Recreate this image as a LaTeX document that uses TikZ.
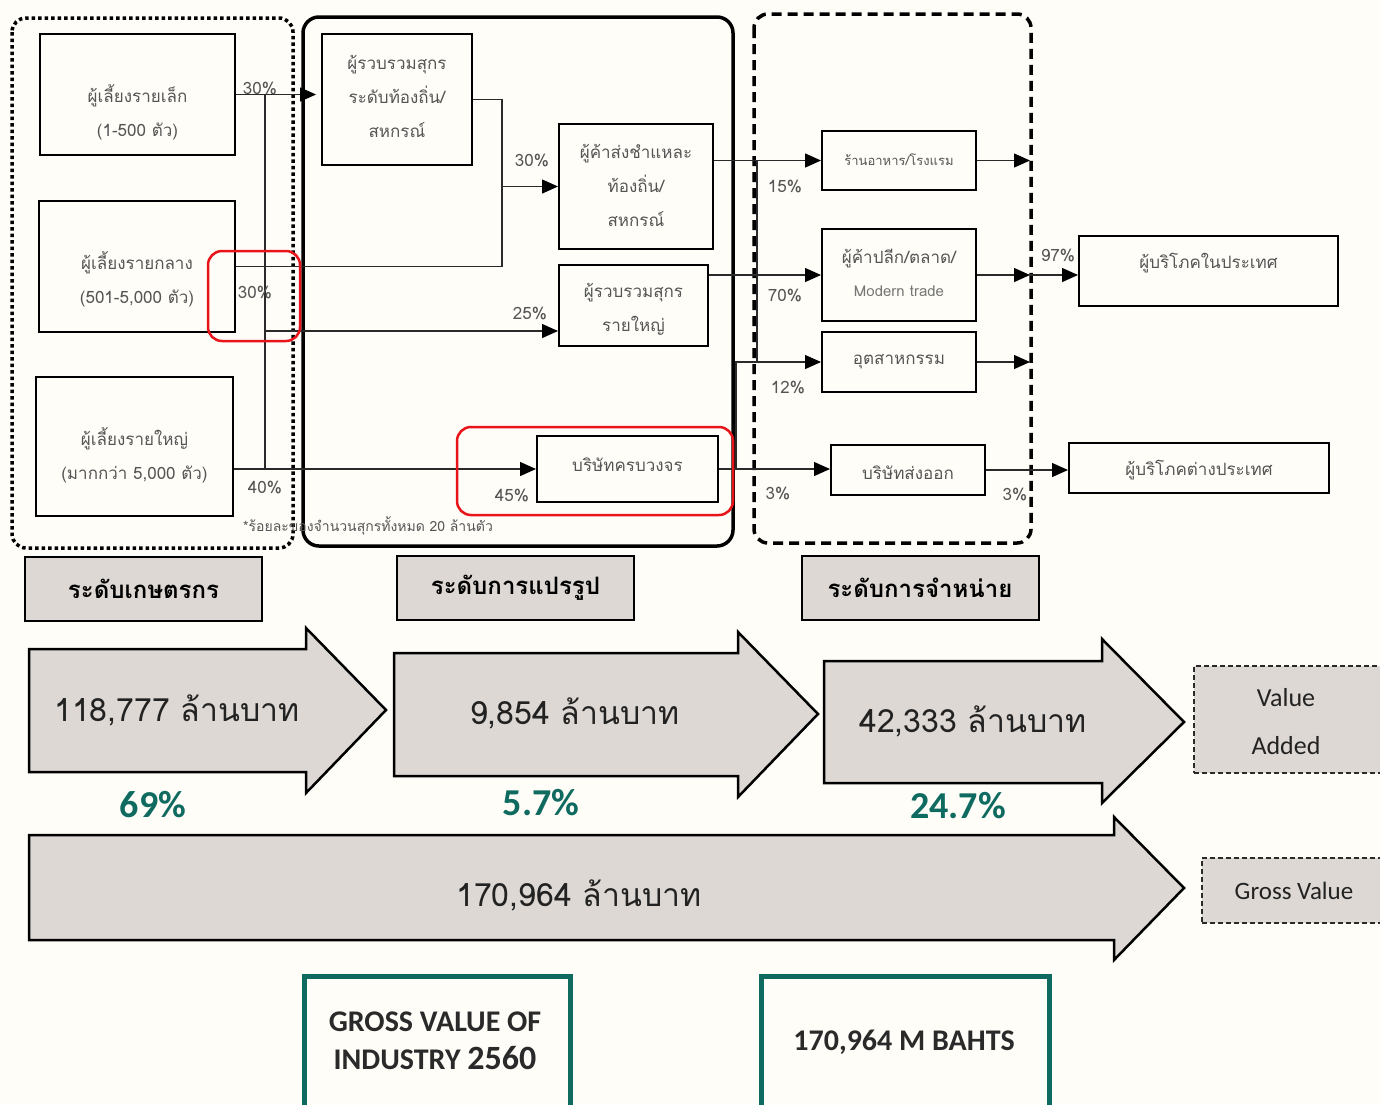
\documentclass[tikz,border=0pt]{standalone}
\usepackage{fontspec}
\usetikzlibrary{arrows.meta}
\newfontfamily\thai[Script=Thai]{Loma}
\newfontfamily\calib{Carlito}
\definecolor{bgc}{HTML}{FEFDF8}
\definecolor{txtc}{HTML}{555555}
\definecolor{linec}{HTML}{2A2A2A}
\definecolor{grayf}{HTML}{DDD8D3}
\definecolor{darkt}{HTML}{222222}
\definecolor{tealc}{HTML}{0F6A5F}
\definecolor{redc}{HTML}{E8141A}
\tikzset{
  bx/.style={draw=black, line width=2pt, inner sep=0pt},
  txt/.style={font=\thai\fontsize{17}{34}\selectfont, text=txtc, align=center, inner sep=0pt},
  smalltxt/.style={font=\thai\fontsize{13}{16}\selectfont, text=txtc, inner sep=0pt},
  pct/.style={font=\thai\fontsize{17}{20}\selectfont, text=txtc, inner sep=0pt},
  conn/.style={draw=linec, line width=1.3pt},
  arr/.style={conn, -{Triangle[length=16pt,width=14pt,color=black]}},
  lvl/.style={draw=black, line width=2pt, fill=grayf, minimum width=237pt, minimum height=64pt, inner sep=0pt, font=\thai\bfseries\fontsize{24}{28}\selectfont},
  big/.style={draw=black, line width=2.5pt, fill=grayf, line join=miter},
  bigtxt/.style={font=\thai\fontsize{32}{36}\selectfont, text=darkt, inner sep=0pt},
  gpct/.style={font=\calib\bfseries\fontsize{38}{40}\selectfont, text=tealc, inner sep=0pt},
  redbox/.style={draw=redc, line width=2.5pt, rounded corners=14pt},
  dbox/.style={draw=linec, line width=2pt, dash pattern=on 5pt off 3pt, fill=grayf, inner sep=0pt},
  entxt/.style={font=\calib\fontsize{26}{48}\selectfont, text=darkt, align=center, inner sep=0pt},
  tealbox/.style={draw=tealc, line width=4.5pt, fill=bgc, inner sep=0pt},
  teatxt/.style={font=\calib\bfseries\fontsize{30}{38}\selectfont, text=linec, align=center, inner sep=0pt},
}
\begin{document}
\begin{tikzpicture}[x=1pt,y=-1pt]
\useasboundingbox (0,0) rectangle (1380,1104);
\fill[bgc] (0,0) rectangle (1380,1104);

% group frames
\draw[line width=3.5pt, dash pattern=on 3.5pt off 3pt, rounded corners=14pt] (12,18) rectangle (293,548);
\draw[line width=3.5pt, rounded corners=16pt] (303,17) rectangle (733,546);
\draw[line width=3.5pt, dash pattern=on 10pt off 6pt, rounded corners=14pt] (754,14) rectangle (1031,543);

% farmer boxes
\node[bx, minimum width=195pt, minimum height=121pt] (small) at (137.5,94.5) {};
\node[txt] (smallt) at (137.5,112) {ผู้เลี้ยงรายเล็ก\\(1-500 ตัว)};
\node[bx, minimum width=196pt, minimum height=131pt] (medium) at (137,266.5) {};
\node[txt] (mediumt) at (137,279) {ผู้เลี้ยงรายกลาง\\(501-5,000 ตัว)};
\node[bx, minimum width=197pt, minimum height=139pt] (large) at (134.5,446.5) {};
\node[txt] (larget) at (134.5,455.5) {ผู้เลี้ยงรายใหญ่\\(มากกว่า 5,000 ตัว)};

% processing boxes
\node[bx, minimum width=150pt, minimum height=131pt] (lcol) at (397,99.5) {};
\node[txt] (lcolt) at (397,96) {ผู้รวบรวมสุกร\\ระดับท้องถิ่น/\\สหกรณ์};
\node[bx, minimum width=154pt, minimum height=125pt] (whole) at (636,186.5) {};
\node[txt] (wholet) at (636,185.5) {ผู้ค้าส่งชำแหละ\\ท้องถิ่น/\\สหกรณ์};
\node[bx, minimum width=149pt, minimum height=81pt] (lgcol) at (633.5,305.5) {};
\node[txt] (lgcolt) at (633.5,309.5) {ผู้รวบรวมสุกร\\รายใหญ่};
\node[bx, minimum width=181pt, minimum height=66pt] (integ) at (627.5,469) {};
\node[txt] (integt) at (627.5,465) {บริษัทครบวงจร};

% distribution boxes
\node[bx, minimum width=154pt, minimum height=59pt] (rest) at (899,160.5) {};
\node[smalltxt] (restt) at (899,160) {ร้านอาหาร/โรงแรม};
\node[bx, minimum width=154pt, minimum height=92pt] (retail) at (899,275) {};
\node[txt] (retailt) at (899,259) {ผู้ค้าปลีก/ตลาด/};
\node[txt, text=txtc!80, font=\thai\fontsize{15}{18}\selectfont] (retailt2) at (899,291) {Modern trade};
\node[bx, minimum width=154pt, minimum height=60pt] (indus) at (899,362) {};
\node[txt] (indust) at (899,362) {อุตสาหกรรม};
\node[bx, minimum width=154pt, minimum height=50pt] (expco) at (908,470) {};
\node[txt] (expcot) at (908,473) {บริษัทส่งออก};

% consumers
\node[bx, minimum width=259pt, minimum height=70pt] (domc) at (1208.5,271) {};
\node[txt] (domct) at (1208.5,263) {ผู้บริโภคในประเทศ};
\node[bx, minimum width=260pt, minimum height=50pt] (forc) at (1199,468) {};
\node[txt] (forct) at (1199,470) {ผู้บริโภคต่างประเทศ};

% junction coordinates
\coordinate (tx) at (265,0);
\coordinate (jx) at (502,0);
\coordinate (b25) at (265,331);
\coordinate (dx) at (757,0);
\coordinate (ix) at (736,0);
\coordinate (rx) at (1030,0);

% farmer connectors
\draw[arr] (small.east) -- ([xshift=-5pt]small.east -| lcol.west);
\draw[conn] (small.east -| tx) -- (integ.west -| tx);
\draw[conn] (medium.east) -- (medium.east -| jx) |- (lcol.east);
\draw[arr] (whole.west -| jx) -- (whole.west);
\draw[arr] (b25) -- (b25 -| lgcol.west);
\draw[arr] (large.east |- integ.west) -- (integ.west);

% processing -> distribution
\draw[arr] (whole.east |- rest.west) -- (rest.west);
\draw[conn] (rest.west -| dx) -- (indus.west -| dx);
\draw[arr] (lgcol.east |- retail.west) -- (retail.west);
\draw[arr] (integ.east) -- (integ.east -| expco.west);
\draw[arr] (integ.east -| ix) |- (indus.west);

% distribution -> consumers
\draw[arr] (rest.east) -- (rest.east -| rx);
\draw[arr] (retail.east) -- (retail.east -| rx);
\draw[arr] (indus.east) -- (indus.east -| rx);
\draw[arr] (retail.east -| rx) -- (retail.east -| domc.west);
\draw[arr] (expco.east) -- (expco.east -| forc.west);

% percentages
\node[pct] (p1) at (260,89) {30\%};
\node[pct] (p2) at (255,293) {30\%};
\node[pct] (p3) at (265,488) {40\%};
\node[pct] (p4) at (532,161) {30\%};
\node[pct] (p5) at (530,314) {25\%};
\node[pct] (p6) at (512,496) {45\%};
\node[pct] (p7) at (785,187) {15\%};
\node[pct] (p8) at (785,296) {70\%};
\node[pct] (p9) at (788,388) {12\%};
\node[pct] (p10) at (778,494) {3\%};
\node[pct] (p11) at (1058,256) {97\%};
\node[pct] (p12) at (1015,495) {3\%};

% footnote
\node[smalltxt, anchor=west, font=\thai\fontsize{14}{16}\selectfont] (foot) at (243,526) {*ร้อยละของจำนวนสุกรทั้งหมด 20 ล้านตัว};

% red highlights
\draw[redbox] (208,251) rectangle (300,341);
\draw[redbox] (457,427) rectangle (733,515);

% level labels
\node[lvl] (lv1) at (143.5,589) {ระดับเกษตรกร};
\node[lvl] (lv2) at (515.5,588) {ระดับการแปรรูป};
\node[lvl] (lv3) at (920,588) {ระดับการจำหน่าย};

% big arrows
\draw[big] (29,649) -- (306,649) -- (306,628) -- (386,710) -- (306,793) -- (306,772) -- (29,772) -- cycle;
\node[bigtxt] (a1t) at (177,710) {118,777 ล้านบาท};
\draw[big] (394,653) -- (738,653) -- (738,632) -- (818,714) -- (738,797) -- (738,776) -- (394,776) -- cycle;
\node[bigtxt] (a2t) at (575,713) {9,854 ล้านบาท};
\draw[big] (824,661) -- (1102,661) -- (1102,639) -- (1184,722) -- (1102,803) -- (1102,783) -- (824,783) -- cycle;
\node[bigtxt] (a3t) at (973,721) {42,333 ล้านบาท};
\draw[big] (29,835) -- (1114,835) -- (1114,817) -- (1184,888) -- (1114,960) -- (1114,940) -- (29,940) -- cycle;
\node[bigtxt] (a4t) at (579,895) {170,964 ล้านบาท};

% green percentages
\node[gpct] (g1) at (153,805) {69\%};
\node[gpct] (g2) at (541,803) {5.7\%};
\node[gpct] (g3) at (958,806) {24.7\%};

% value boxes
\node[dbox, minimum width=190pt, minimum height=107pt, anchor=north west] (va) at (1193,665) {};
\node[entxt] (vat) at (1286,722) {Value\\Added};
\node[dbox, minimum width=182pt, minimum height=65pt, anchor=north west] (gvb) at (1201,857) {};
\node[entxt, font=\calib\fontsize{25}{30}\selectfont] (gvt) at (1294,891) {Gross Value};

% teal boxes
\node[tealbox, minimum width=266pt, minimum height=160pt, anchor=north west] (tb1) at (302,974) {};
\node[teatxt] (tb1t) at (435,1041) {GROSS VALUE OF\\INDUSTRY {\fontsize{34}{38}\selectfont 2560}};
\node[tealbox, minimum width=288pt, minimum height=160pt, anchor=north west] (tb2) at (759,974) {};
\node[teatxt] (tb2t) at (904,1042) {170,964 M BAHTS};
\end{tikzpicture}
\end{document}
